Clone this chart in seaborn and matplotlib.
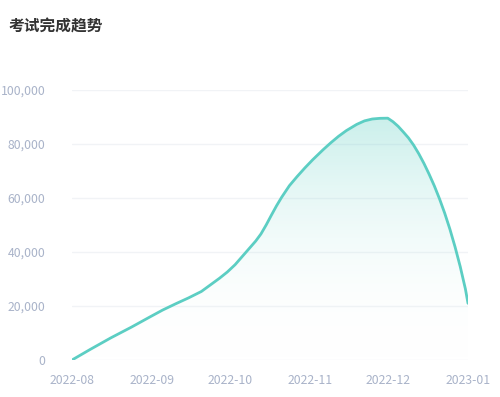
import numpy as np
import pandas as pd
import matplotlib
matplotlib.use("Agg")
import matplotlib.pyplot as plt
import matplotlib.dates as mdates
from matplotlib.colors import LinearSegmentedColormap
from matplotlib.ticker import FuncFormatter
import seaborn as sns

# values
dates = [
    "2022-08-01", "2022-08-08", "2022-08-16", "2022-08-24", "2022-08-31",
    "2022-09-05", "2022-09-10", "2022-09-15", "2022-09-20", "2022-09-24",
    "2022-09-27", "2022-09-30", "2022-10-03", "2022-10-05", "2022-10-08",
    "2022-10-11", "2022-10-13", "2022-10-15", "2022-10-17", "2022-10-19",
    "2022-10-21", "2022-10-24", "2022-10-27", "2022-10-30", "2022-11-02",
    "2022-11-06", "2022-11-09", "2022-11-12", "2022-11-15", "2022-11-19",
    "2022-11-22", "2022-11-25", "2022-11-28", "2022-12-01", "2022-12-03",
    "2022-12-05", "2022-12-07", "2022-12-09", "2022-12-11", "2022-12-13",
    "2022-12-15", "2022-12-17", "2022-12-19", "2022-12-21", "2022-12-23",
    "2022-12-25", "2022-12-27", "2022-12-29", "2022-12-31", "2023-01-01",
]
completed = [
    0, 3900, 8200, 12200, 15900,
    18500, 20800, 23000, 25400, 28200,
    30300, 32600, 35300, 37500, 40800,
    44100, 46700, 50000, 53600, 57100,
    60300, 64600, 68000, 71200, 74200,
    77900, 80500, 82900, 85000, 87300,
    88600, 89300, 89550, 89600, 88300,
    86600, 84500, 82300, 79600, 76400,
    72800, 68800, 64500, 59700, 54400,
    48500, 41900, 34600, 26300, 21000,
]
month_ticks = ["2022-08", "2022-09", "2022-10", "2022-11", "2022-12", "2023-01"]
y_ticks = [0, 20000, 40000, 60000, 80000, 100000]

title = "考试完成趋势"
line_color = "#5ccec3"
label_color = "#a9b3c9"

df = pd.DataFrame({"date": pd.to_datetime(dates), "completed": completed})

sns.set_theme(style="white")
plt.rcParams["font.family"] = ["Noto Sans CJK SC", "DejaVu Sans"]

fig = plt.figure(figsize=(5.0, 3.97), dpi=100)
ax = fig.add_axes([0.144, 0.0932, 0.792, 0.6798])

sns.lineplot(data=df, x="date", y="completed", ax=ax, color=line_color,
             linewidth=2.0, zorder=3)

# gradient fill under the line
xnum = mdates.date2num(df["date"])
poly = ax.fill_between(xnum, 0, df["completed"], color="none")
cmap = LinearSegmentedColormap.from_list(
    "fade", [(1, 1, 1, 0.0), (0.36, 0.81, 0.76, 0.32)])
grad = np.linspace(0, 1, 256).reshape(-1, 1)
img = ax.imshow(grad, cmap=cmap, aspect="auto", origin="lower",
                extent=[xnum.min(), xnum.max(), 0, max(completed)], zorder=2)
img.set_clip_path(poly.get_paths()[0], transform=ax.transData)

ax.set_xlim(xnum.min(), xnum.max())
ax.set_ylim(0, 100000)

ax.set_xticks(mdates.date2num(pd.to_datetime(month_ticks)))
ax.set_xticklabels(month_ticks)
ax.set_yticks(y_ticks)
ax.yaxis.set_major_formatter(FuncFormatter(lambda v, p: f"{int(v):,}"))

ax.tick_params(axis="both", length=0, labelsize=8.8, labelcolor=label_color)
ax.tick_params(axis="y", pad=19)
ax.tick_params(axis="x", pad=10)
ax.grid(axis="y", color="#f1f3f6", linewidth=1.0, zorder=0)
ax.grid(axis="x", visible=False)
for s in ax.spines.values():
    s.set_visible(False)
ax.set_xlabel("")
ax.set_ylabel("")

fig.text(0.016, 0.932, title, fontsize=11.3, fontweight="bold",
         color="#333333", ha="left", va="center")

fig.savefig("out.png", dpi=100)
